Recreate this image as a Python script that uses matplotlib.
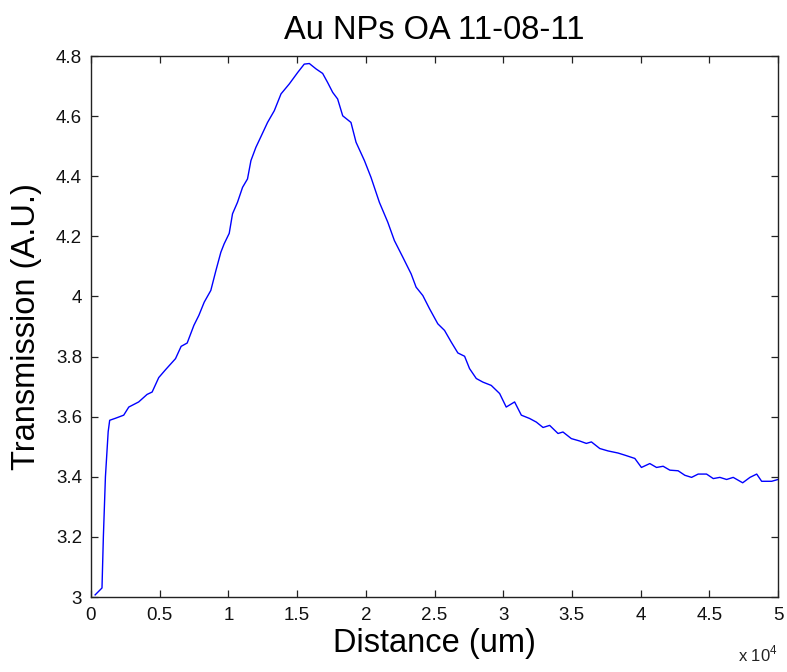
import matplotlib
matplotlib.use("Agg")
import matplotlib.pyplot as plt
from matplotlib.ticker import FuncFormatter, MultipleLocator

plt.rcParams["font.family"] = ["Liberation Sans", "DejaVu Sans"]
plt.rcParams["mathtext.fontset"] = "custom"
plt.rcParams["mathtext.rm"] = "Liberation Sans"

# distance along the sample (um) and transmission (A.U.)
distance = [300, 800, 900, 1050, 1250, 1360, 1800, 2380, 2750, 3470, 4080, 4450,
            4930, 5420, 6150, 6560, 7000, 7490, 7850, 8240, 8720, 9090, 9450, 9690,
            10060, 10300, 10660, 11030, 11390, 11640, 12000, 12370, 12850, 13340,
            13830, 14430, 15040, 15520, 15890, 16380, 16860, 17220, 17590, 17950,
            18320, 18920, 19290, 19900, 20380, 20990, 21600, 22080, 22690, 23300,
            23660, 24150, 24640, 25240, 25730, 26220, 26700, 27190, 27550, 28040,
            28520, 29130, 29740, 30220, 30830, 31320, 31920, 32410, 32900, 33380,
            33990, 34350, 34960, 35570, 36050, 36420, 37030, 37630, 38360, 38850,
            39580, 40060, 40670, 41160, 41640, 42130, 42730, 43220, 43710, 44190,
            44800, 45290, 45770, 46260, 46740, 47430, 47960, 48450, 48810, 49540,
            50000]
transmission = [3.007, 3.030, 3.200, 3.400, 3.550, 3.588, 3.595, 3.605, 3.632, 3.649,
                3.674, 3.682, 3.730, 3.756, 3.793, 3.834, 3.845, 3.904, 3.937, 3.981,
                4.020, 4.086, 4.147, 4.175, 4.210, 4.275, 4.313, 4.363, 4.391, 4.452,
                4.496, 4.532, 4.579, 4.618, 4.674, 4.707, 4.745, 4.773, 4.775, 4.757,
                4.742, 4.712, 4.679, 4.657, 4.601, 4.579, 4.513, 4.452, 4.396, 4.313,
                4.247, 4.186, 4.131, 4.075, 4.031, 4.003, 3.959, 3.909, 3.887, 3.848,
                3.812, 3.801, 3.760, 3.727, 3.715, 3.704, 3.677, 3.632, 3.649, 3.605,
                3.594, 3.582, 3.564, 3.571, 3.544, 3.549, 3.527, 3.519, 3.511, 3.516,
                3.494, 3.486, 3.479, 3.472, 3.461, 3.431, 3.444, 3.431, 3.435, 3.422,
                3.420, 3.405, 3.398, 3.409, 3.409, 3.394, 3.398, 3.391, 3.398, 3.380,
                3.398, 3.409, 3.385, 3.385, 3.391]

W, H = 787, 672
fig = plt.figure(figsize=(W / 100, H / 100), dpi=100)
ax = fig.add_axes([91 / W, (H - 597) / H, (778 - 91) / W, (597 - 56) / H])

ax.plot(distance, transmission, color="#0000ff", lw=1.0)

ax.set_xlim(0, 50000)
ax.set_ylim(3, 4.8)
ax.xaxis.set_major_locator(MultipleLocator(5000))
ax.yaxis.set_major_locator(MultipleLocator(0.2))
ax.xaxis.set_major_formatter(FuncFormatter(lambda v, p: f"{v / 1e4:g}"))
ax.yaxis.set_major_formatter(FuncFormatter(lambda v, p: f"{v:g}"))
ax.tick_params(direction="in", length=5, width=0.9, labelsize=13.5,
               top=True, right=True, color="#222222", labelcolor="#111111")
ax.tick_params(axis="x", pad=7)
ax.tick_params(axis="y", pad=6.5)
for s in ax.spines.values():
    s.set_linewidth(1.0)
    s.set_color("#222222")

ax.set_title("Au NPs OA 11-08-11", fontsize=23.5, pad=12)
ax.set_xlabel("Distance (um)", fontsize=23.5, labelpad=3)
ax.set_ylabel("Transmission (A.U.)", fontsize=23.5, labelpad=10)
ax.text(1.0, -0.105, r"x 10$^4$", transform=ax.transAxes, ha="right", va="center",
        fontsize=12, color="#222222")

fig.savefig("out.png", dpi=100)
